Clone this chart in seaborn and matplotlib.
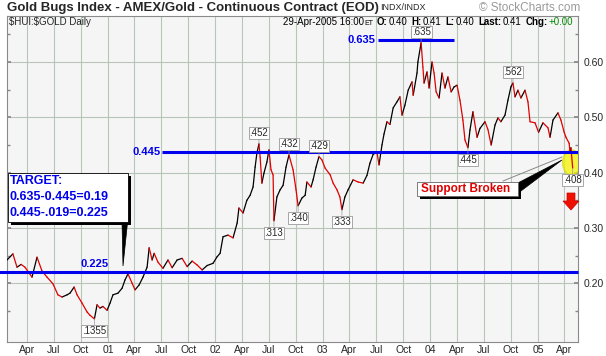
import numpy as np
import pandas as pd
import seaborn as sns
import matplotlib.pyplot as plt
from matplotlib.patches import Ellipse, Polygon, Rectangle

# closing values ($HUI:$GOLD ratio)
dates = [
    "2000-01-24", "2000-02-13", "2000-02-27", "2000-03-12", "2000-03-25", "2000-04-18",
    "2000-05-05", "2000-05-22", "2000-06-08", "2000-06-28", "2000-07-15", "2000-07-29",
    "2000-08-15", "2000-08-25", "2000-09-08", "2000-09-18", "2000-10-05", "2000-10-22",
    "2000-11-01", "2000-11-16", "2000-11-25", "2000-12-05", "2000-12-15", "2000-12-29",
    "2001-01-08", "2001-01-18", "2001-02-04", "2001-02-18", "2001-02-28", "2001-03-10",
    "2001-03-24", "2001-04-03", "2001-04-17", "2001-04-30", "2001-05-14", "2001-05-21",
    "2001-05-31", "2001-06-07", "2001-06-20", "2001-07-07", "2001-07-24", "2001-08-07",
    "2001-08-24", "2001-09-10", "2001-09-27", "2001-10-14", "2001-10-31", "2001-11-17",
    "2001-12-04", "2001-12-24", "2002-01-07", "2002-01-17", "2002-01-27", "2002-02-13",
    "2002-03-02", "2002-03-16", "2002-03-22", "2002-04-05", "2002-04-18", "2002-04-29",
    "2002-05-09", "2002-05-16", "2002-05-22", "2002-05-29", "2002-06-02", "2002-06-08",
    "2002-06-15", "2002-06-25", "2002-07-02", "2002-07-09", "2002-07-16", "2002-07-19",
    "2002-07-29", "2002-08-09", "2002-08-19", "2002-08-29", "2002-09-08", "2002-09-22",
    "2002-10-02", "2002-10-09", "2002-10-22", "2002-11-02", "2002-11-08", "2002-11-22",
    "2002-11-29", "2002-12-09", "2002-12-19", "2002-12-29", "2003-01-09", "2003-01-26",
    "2003-02-05", "2003-02-18", "2003-02-28", "2003-03-07", "2003-03-17", "2003-03-28",
    "2003-04-14", "2003-05-01", "2003-05-18", "2003-05-31", "2003-06-10", "2003-06-21",
    "2003-07-04", "2003-07-11", "2003-07-21", "2003-07-28", "2003-08-07", "2003-08-17",
    "2003-08-28", "2003-09-10", "2003-09-20", "2003-09-27", "2003-10-07", "2003-10-18",
    "2003-10-31", "2003-11-04", "2003-11-17", "2003-11-20", "2003-12-01", "2003-12-07",
    "2003-12-11", "2003-12-21", "2003-12-28", "2004-01-07", "2004-01-14", "2004-01-21",
    "2004-01-31", "2004-02-10", "2004-02-20", "2004-03-01", "2004-03-12", "2004-03-22",
    "2004-04-01", "2004-04-11", "2004-04-21", "2004-04-28", "2004-05-08", "2004-05-15",
    "2004-05-25", "2004-06-08", "2004-06-18", "2004-07-05", "2004-07-15", "2004-07-26",
    "2004-08-08", "2004-08-18", "2004-08-28", "2004-09-11", "2004-09-21", "2004-10-01",
    "2004-10-08", "2004-10-15", "2004-10-25", "2004-11-04", "2004-11-18", "2004-11-28",
    "2004-12-05", "2004-12-22", "2005-01-03", "2005-01-18", "2005-02-04", "2005-02-11",
    "2005-02-21", "2005-03-10", "2005-03-20", "2005-03-31", "2005-04-06", "2005-04-17",
    "2005-04-20", "2005-04-23", "2005-04-29",
]
closes = [
    0.242, 0.253, 0.229, 0.234, 0.229, 0.211,
    0.247, 0.222, 0.211, 0.199, 0.179, 0.175,
    0.179, 0.182, 0.193, 0.179, 0.164, 0.148,
    0.142, 0.1355, 0.161, 0.155, 0.158, 0.151,
    0.164, 0.179, 0.182, 0.191, 0.206, 0.217,
    0.200, 0.188, 0.197, 0.211, 0.229, 0.264,
    0.242, 0.254, 0.238, 0.227, 0.242, 0.228,
    0.242, 0.245, 0.230, 0.240, 0.233, 0.224,
    0.232, 0.236, 0.248, 0.254, 0.284, 0.287,
    0.282, 0.309, 0.336, 0.327, 0.350, 0.359,
    0.374, 0.410, 0.435, 0.452, 0.428, 0.381,
    0.399, 0.419, 0.441, 0.405, 0.396, 0.313,
    0.356, 0.369, 0.377, 0.410, 0.432, 0.405,
    0.369, 0.340, 0.354, 0.359, 0.383, 0.374,
    0.387, 0.410, 0.429, 0.423, 0.408, 0.396,
    0.381, 0.369, 0.356, 0.333, 0.356, 0.369,
    0.387, 0.383, 0.381, 0.395, 0.417, 0.433,
    0.437, 0.414, 0.450, 0.470, 0.492, 0.487,
    0.517, 0.528, 0.537, 0.504, 0.522, 0.549,
    0.564, 0.540, 0.580, 0.600, 0.635, 0.591,
    0.562, 0.582, 0.553, 0.600, 0.580, 0.546,
    0.535, 0.580, 0.553, 0.573, 0.546, 0.555,
    0.558, 0.531, 0.495, 0.459, 0.445, 0.477,
    0.510, 0.464, 0.480, 0.492, 0.478, 0.450,
    0.486, 0.499, 0.492, 0.504, 0.531, 0.555,
    0.562, 0.537, 0.549, 0.535, 0.549, 0.528,
    0.492, 0.490, 0.473, 0.490, 0.481, 0.464,
    0.495, 0.508, 0.495, 0.473, 0.464, 0.453,
    0.435, 0.445, 0.408,
]

# peaks / troughs labelled on the chart
label_dates = ["2000-11-16", "2002-05-29", "2002-07-19", "2002-09-08", "2002-10-09",
               "2002-12-19", "2003-03-07", "2003-12-01", "2004-05-08", "2004-10-08",
               "2005-04-29"]
label_texts = [".1355", ".452", ".313", ".432", ".340", ".429", ".333", ".635", ".445",
               ".562", ".408"]
label_is_peak = [False, True, False, True, False, True, False, True, False, True, False]

# hand drawn support / target lines (as drawn), with their captions
level_values = [0.640, 0.437, 0.221]
level_texts = ["0.635", "0.445", "0.225"]
level_starts = ["2003-07-08", "2001-07-04", "1999-12-01"]
level_ends = ["2004-03-22", "2005-05-17", "2005-05-17"]

target_lines = ["TARGET:", "0.635-0.445=0.19", "0.445-.019=0.225"]

# last bar info shown in the header
last_stamp = "29-Apr-2005 16:00"
ohlc_names = ["O:", "H:", "L:", "Last:", "Chg:"]
ohlc_values = ["0.40", "0.41", "0.40", "0.41", "+0.00"]

tick_dates = pd.date_range("2000-04-01", "2005-04-01", freq="QS")
tick_labels = [d.strftime("%y") if d.month == 1 else d.strftime("%b") for d in tick_dates]

df = pd.DataFrame({"date": pd.to_datetime(dates), "close": closes})

# up moves black, down moves red: one 2-point segment per move
rows = []
for i in range(1, len(df)):
    d = "down" if df.close[i] < df.close[i - 1] else "up"
    rows.append((df.date[i - 1], df.close[i - 1], i, d))
    rows.append((df.date[i], df.close[i], i, d))
seg = pd.DataFrame(rows, columns=["date", "close", "seg", "dir"])

sns.set_theme(style="whitegrid")
plt.rcParams["font.family"] = ["Liberation Sans", "DejaVu Sans"]

W, H = 606, 356
L, R, T, B = 7, 578, 16, 342
fig = plt.figure(figsize=(W / 100, H / 100), dpi=100)
fig.patch.set_facecolor("white")
ax = fig.add_axes([L / W, (H - B) / H, (R - L) / W, (B - T) / H])
ax.set_facecolor("#f5f5f5")


def axp(px, py):
    # pixel position -> axes fraction (for decorations only)
    return (px - L) / (R - L), (B - py) / (B - T)


sns.lineplot(data=seg, x="date", y="close", hue="dir", units="seg", estimator=None,
             sort=False, palette={"up": "black", "down": "#e00000"}, legend=False,
             linewidth=0.9, ax=ax, zorder=3)

ax.set_xlim(pd.Timestamp("2000-01-24"), pd.Timestamp("2005-05-17"))
ax.set_ylim(0.0937, 0.6832)
ax.set_xticks(tick_dates)
ax.set_xticklabels(tick_labels, fontsize=7.5)
ax.set_yticks([0.2, 0.3, 0.4, 0.5, 0.6])
ax.set_yticklabels(["0.20", "0.30", "0.40", "0.50", "0.60"], fontsize=7.5)
ax.yaxis.tick_right()
ax.set_yticks(np.arange(0.15, 0.66, 0.05), minor=True)
ax.tick_params(axis="x", length=0, pad=2)
ax.tick_params(axis="y", which="major", direction="in", length=3, pad=4, right=True,
               left=True, color="#888888")
ax.tick_params(axis="y", which="minor", direction="in", length=2, right=True,
               left=True, color="#888888")
ax.set_xlabel("")
ax.set_ylabel("")
ax.grid(True, which="major", color="#b8c6b8", linewidth=0.8)
ax.grid(False, which="minor")
for s in ax.spines.values():
    s.set_color("#8a8a8a")
    s.set_linewidth(0.8)

# level lines
for val, txt, d0, d1 in zip(level_values, level_texts, level_starts, level_ends):
    ax.plot([pd.Timestamp(d0), pd.Timestamp(d1)], [val, val], color="#0000ee",
            linewidth=2.2, zorder=4, clip_on=(txt != "0.225"), solid_capstyle="butt")
ax.text(*axp(375, 40), level_texts[0], transform=ax.transAxes, ha="right", va="center",
        color="#0000ee", fontsize=8, fontweight="bold")
ax.text(*axp(161, 152), level_texts[1], transform=ax.transAxes, ha="right", va="center",
        color="#0000ee", fontsize=8, fontweight="bold")
ax.text(*axp(95, 264), level_texts[2], transform=ax.transAxes, ha="center", va="center",
        color="#0000ee", fontsize=8, fontweight="bold")

# value labels
lookup = dict(zip(df.date, df.close))
for d, txt, peak in zip(label_dates, label_texts, label_is_peak):
    ts = pd.Timestamp(d)
    off = 6 if peak else -7
    ax.annotate(txt, xy=(ts, lookup[ts]), xytext=(0, off), textcoords="offset pixels",
                ha="center", va="bottom" if peak else "top", fontsize=7,
                bbox=dict(boxstyle="square,pad=0.1", fc="white", ec="#999999", lw=0.6),
                arrowprops=dict(arrowstyle="-", color="#999999", lw=0.5,
                                shrinkA=0, shrinkB=0), zorder=6)

# TARGET callout box with shadow and tail
ax.add_patch(Polygon([axp(122, 222), axp(128, 218), axp(123, 266)], closed=True,
                     transform=ax.transAxes, fc="black", ec="black", lw=0.5,
                     zorder=6, clip_on=False))
x0, y0 = axp(11, 225)
x1, y1 = axp(131, 176)
ax.add_patch(Rectangle((x0, y0), x1 - x0, y1 - y0, transform=ax.transAxes,
                       fc="black", ec="none", zorder=6, clip_on=False))
x0, y0 = axp(8, 222)
x1, y1 = axp(128, 173)
ax.add_patch(Rectangle((x0, y0), x1 - x0, y1 - y0, transform=ax.transAxes,
                       fc="white", ec="black", lw=0.6, zorder=7, clip_on=False))
for i, line in enumerate(target_lines):
    ax.text(*axp(10, 181 + 16 * i), line, transform=ax.transAxes, ha="left",
            va="center", color="#0000ee", fontsize=9, fontweight="bold", zorder=8)

# "Support Broken" callout, highlight and arrow
last_date = df.date.iloc[-1]
ax.add_patch(Ellipse((last_date - pd.Timedelta(days=4), 0.418), width=60, height=0.046,
                     fc="#f4f400", ec="#d8d800", alpha=0.75, zorder=2))
ax.plot([axp(503, 181)[0], axp(562, 157)[0]], [axp(503, 181)[1], axp(562, 157)[1]],
        transform=ax.transAxes, color="#888888", lw=0.7, zorder=6)
ax.add_patch(Polygon([axp(512, 186), axp(517, 194), axp(562, 160)], closed=True,
                     transform=ax.transAxes, fc="black", ec="black", lw=0.5, zorder=6))
x0, y0 = axp(420, 199)
x1, y1 = axp(521, 185)
ax.add_patch(Rectangle((x0, y0), x1 - x0, y1 - y0, transform=ax.transAxes,
                       fc="black", ec="none", zorder=6))
x0, y0 = axp(417, 196)
x1, y1 = axp(518, 182)
ax.add_patch(Rectangle((x0, y0), x1 - x0, y1 - y0, transform=ax.transAxes,
                       fc="white", ec="#666666", lw=0.6, zorder=7))
ax.text(*axp(421, 189), "Support Broken", transform=ax.transAxes, ha="left",
        va="center", color="#e00000", fontsize=8.5, fontweight="bold", zorder=8)
ax.add_patch(Polygon([axp(567, 193), axp(575, 193), axp(575, 201), axp(579, 201),
                      axp(571, 210), axp(563, 201), axp(567, 201)], closed=True,
                     transform=ax.transAxes, fc="#ee1100", ec="#cc0000", lw=0.5,
                     zorder=6, clip_on=False))

# header
fig.text(7 / W, 1 - 8 / H, "Gold Bugs Index - AMEX/Gold - Continuous Contract (EOD)",
         ha="left", va="center", fontsize=9.5, fontweight="bold")
fig.text(380 / W, 1 - 8 / H, "INDX/INDX", ha="left", va="center", fontsize=6.5)
fig.text(580 / W, 1 - 8 / H, "\u00a9 StockCharts.com", ha="right", va="center",
         fontsize=8.5, color="#9a9a9a")
fig.text(9 / W, 1 - 22 / H, r"\$HUI:\$GOLD Daily", ha="left", va="center", fontsize=7)

# right-aligned quote line, laid out piece by piece from the right edge
pieces = [(last_stamp, "normal", "black", 7, 0), ("ET", "normal", "black", 5, 4)]
for name, val in zip(ohlc_names, ohlc_values):
    pieces.append((name, "bold", "black", 7, 1))
    pieces.append((val, "normal", "#008800" if name == "Chg:" else "black", 7, 4))
renderer = fig.canvas.get_renderer()
xpos = 577
for txt, wt, col, size, gap in reversed(pieces):
    xpos -= gap
    t = fig.text(xpos / W, 1 - 25 / H, txt, ha="right", va="baseline", fontsize=size,
                 fontweight=wt, color=col)
    xpos -= t.get_window_extent(renderer).width

fig.savefig("out.png", dpi=100)
